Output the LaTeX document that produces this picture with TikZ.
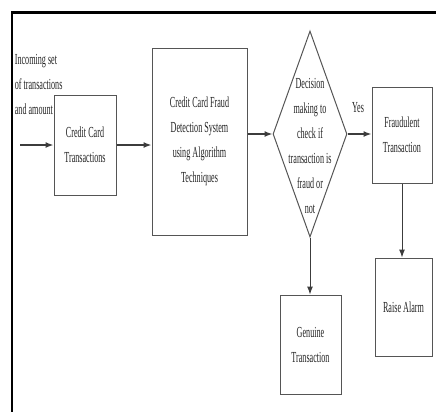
\documentclass[tikz,border=0pt]{standalone}
\usepackage{fontspec}
\newfontfamily\wordfont{Liberation Serif}[FakeStretch=0.53]
\usetikzlibrary{shapes.geometric,arrows.meta}

\tikzset{every picture/.style={line width=0.75pt}}
\tikzset{
	txt/.style={font=\wordfont\fontsize{11.5}{18.75}\selectfont, text={rgb, 255:red, 35; green, 35; blue, 35 }},
	box/.style={txt, draw={rgb, 255:red, 85; green, 85; blue, 85 }, rectangle, inner sep=0pt, align=center},
	flow/.style={draw={rgb, 255:red, 60; green, 60; blue, 60 }, -{Latex[length=6pt,width=4.5pt]}}}

\begin{document}
\begin{tikzpicture}[x=0.75pt,y=0.75pt,yscale=-1,xscale=1]
	\useasboundingbox (0,0) rectangle (436,412);

	%Straight Lines [frame] 
	\draw [line width=2.25]   (11,12) -- (436,12) ;
	\draw [line width=1.5]   (12,11) -- (12,412) ;

	%Shape: Rectangle [cct] 
	\node [box, minimum width=46.5pt, minimum height=75pt] (cct) at (85,145) {Credit Card\\Transactions};
	%Shape: Rectangle [cfd] 
	\node [box, minimum width=71.25pt, minimum height=140.25pt] (cfd) at (199.5,141.5) {Credit Card Fraud\\Detection System\\using  Algorithm\\Techniques};
	%Shape: Diamond [dec] 
	\node [diamond, draw={rgb, 255:red, 85; green, 85; blue, 85 }, inner sep=0pt, minimum width=55.5pt, minimum height=154.5pt] (dec) at (310,134) {};
	%Shape: Rectangle [frd] 
	\node [box, minimum width=45pt, minimum height=72pt] (frd) at (402,135) {Fraudulent\\Transaction};
	%Shape: Rectangle [ra] 
	\node [box, minimum width=42.75pt, minimum height=73.5pt] (ra) at (403.5,307) {Raise Alarm};
	%Shape: Rectangle [gen] 
	\node [box, minimum width=45.75pt, minimum height=74.25pt] (gen) at (310.5,344.5) {Genuine\\Transaction};

	% Text Node
	\node [txt, anchor=west, align=left, inner sep=1pt] (inctxt) at (13,84) {Incoming set\\of transactions\\and amount};
	% Text Node
	\node [txt, align=center] (dectxt) at (310,146) {Decision\\making to\\check if\\transaction is\\fraud or\\not};
	% Text Node
	\node [txt] (yes) at (358,108) {Yes};

	%Straight Lines [arrows] 
	\coordinate (inc) at (20,145);
	\draw [flow, line width=1.1]   (inc) -- (cct) ;
	\draw [flow, line width=1.1]   (cct.east) -- (cct.east -| cfd.west) ;
	\draw [flow, line width=1.1]   (cfd.east |- dec.west) -- (dec.west) ;
	\draw [flow, line width=1.1]   (dec.east) -- (dec.east -| frd.west) ;
	\draw [flow]   (frd.south) -- (frd.south |- ra.north) ;
	\draw [flow]   (dec.south) -- (dec.south |- gen.north) ;

\end{tikzpicture}
\end{document}
